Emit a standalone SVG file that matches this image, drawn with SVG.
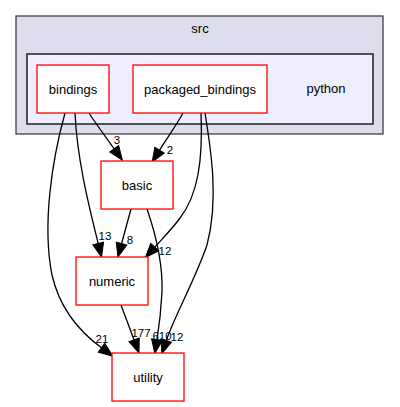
<svg xmlns="http://www.w3.org/2000/svg" width="400" height="407" viewBox="0 0 400 407">
<style>
.node rect{fill:#ffffff;stroke:#ff0000;stroke-width:1.3}
text{font-family:"Liberation Sans",Arial,sans-serif;fill:#000000}
.nl{font-size:13px;text-anchor:middle}
.el{font-size:11.5px;text-anchor:middle}
.edges path{fill:none;stroke:#000000;stroke-width:1.3}
</style>
<defs>
<marker id="ah" markerUnits="userSpaceOnUse" markerWidth="15" markerHeight="13" refX="0" refY="6.5" orient="auto" overflow="visible">
<path d="M0,1 L14,6.5 L0,12 z" fill="#000000" stroke="#000000" stroke-width="1"/>
</marker>
</defs>
<rect width="400" height="407" fill="#ffffff"/>
<g id="cluster_src">
<rect x="16" y="16" width="367" height="118" fill="#ddddee" stroke="#404040" stroke-width="1.3"/>
<text class="nl" x="200" y="33">src</text>
</g>
<g id="cluster_python">
<rect x="27" y="54" width="346" height="70" fill="#eeeeff" stroke="#000000" stroke-width="1.3"/>
<text class="nl" x="326" y="93">python</text>
</g>
<g class="edges" id="edges">
<path marker-end="url(#ah)" d="M89,113 C96,124 105,136 114.2,148.8"/>
<path marker-end="url(#ah)" d="M183,113 C176,126 167,138 159.5,150.2"/>
<path marker-end="url(#ah)" d="M75,113 C77,160 90,210 98.2,243.5"/>
<path marker-end="url(#ah)" d="M131,209 L121.6,243.5"/>
<path marker-end="url(#ah)" d="M201,113 C203,160 198,195 180,218 C172,229 163,238 154.8,247.1"/>
<path marker-end="url(#ah)" d="M65,113 C52,160 42,225 52,275 C60,310 80,332 101.5,347.8"/>
<path marker-end="url(#ah)" d="M121,305 L134.1,339.9"/>
<path marker-end="url(#ah)" d="M147,209 C156,235 163,262 162,292 C161,312 159,327 157,339.6"/>
<path marker-end="url(#ah)" d="M205,113 C211,150 219,200 207,245 C195,280 175,315 166.3,340.5"/>
<text class="el" x="117" y="144">3</text>
<text class="el" x="170" y="154">2</text>
<text class="el" x="105" y="240">13</text>
<text class="el" x="130" y="244">8</text>
<text class="el" x="165" y="255">12</text>
<text class="el" x="102" y="343">21</text>
<text class="el" x="141" y="337">177</text>
<text class="el" x="162" y="340">610</text>
<text class="el" x="177" y="341">12</text>
</g>
<g class="node" id="node_bindings">
<rect x="37" y="65" width="72" height="48"/>
<text class="nl" x="73" y="94">bindings</text>
</g>
<g class="node" id="node_packaged_bindings">
<rect x="133" y="65" width="134" height="48"/>
<text class="nl" x="200" y="94">packaged_bindings</text>
</g>
<g class="node" id="node_basic">
<rect x="101" y="161" width="72" height="48"/>
<text class="nl" x="137" y="190">basic</text>
</g>
<g class="node" id="node_numeric">
<rect x="76" y="257" width="72" height="48"/>
<text class="nl" x="112" y="286">numeric</text>
</g>
<g class="node" id="node_utility">
<rect x="112" y="353" width="72" height="48"/>
<text class="nl" x="148" y="382">utility</text>
</g>
</svg>
